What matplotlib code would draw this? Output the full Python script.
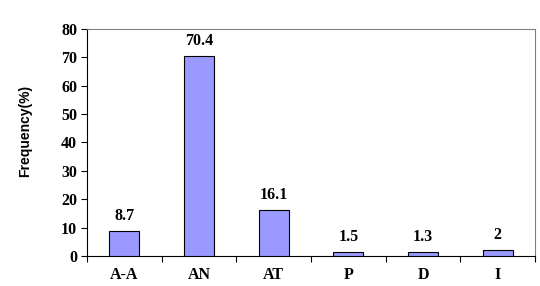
import matplotlib
matplotlib.use("Agg")
import matplotlib.pyplot as plt
import numpy as np

categories = ["A-A", "AN", "AT", "P", "D", "I"]
values = [8.7, 70.4, 16.1, 1.5, 1.3, 2]
labels = ["8.7", "70.4", "16.1", "1.5", "1.3", "2"]
yticks = [0, 10, 20, 30, 40, 50, 60, 70, 80]

fig = plt.figure(figsize=(5.4, 2.86), dpi=100)
ax = fig.add_axes([0.161, 0.105, 0.83, 0.794])
x = np.arange(len(categories))
ax.bar(x, values, width=0.4, color="#9999FF", edgecolor="black", linewidth=0.8, zorder=3)
for xi, v, lab in zip(x, values, labels):
    ax.text(xi, v + 2.5, lab, ha="center", va="bottom", fontsize=11.5,
            fontfamily="Liberation Serif", fontweight="bold")

ax.set_xlim(-0.5, len(categories) - 0.5)
ax.set_ylim(0, 80)
ax.set_yticks(yticks)
ax.set_yticklabels([str(t) for t in yticks], fontfamily="Liberation Serif", fontweight="bold", fontsize=11.5)
ax.set_xticks(x)
ax.set_xticklabels(categories, fontfamily="Liberation Serif", fontweight="bold", fontsize=11.5)
ax.set_xticks(np.arange(-0.5, len(categories)), minor=True)
ax.tick_params(axis="x", which="major", length=0, pad=8)
ax.tick_params(axis="x", which="minor", length=4, direction="out", width=0.8)
ax.tick_params(axis="y", length=4, direction="out", width=0.8, pad=3)
ax.spines["top"].set_color("#808080")
ax.spines["right"].set_color("#808080")
ax.spines["left"].set_linewidth(0.8)
ax.spines["bottom"].set_linewidth(0.8)
ax.set_ylabel("Frequency(%)", fontfamily="Liberation Sans", fontweight="bold", fontsize=10)
ax.yaxis.set_label_coords(-0.123, 0.55)

fig.savefig("out.png", dpi=100)
